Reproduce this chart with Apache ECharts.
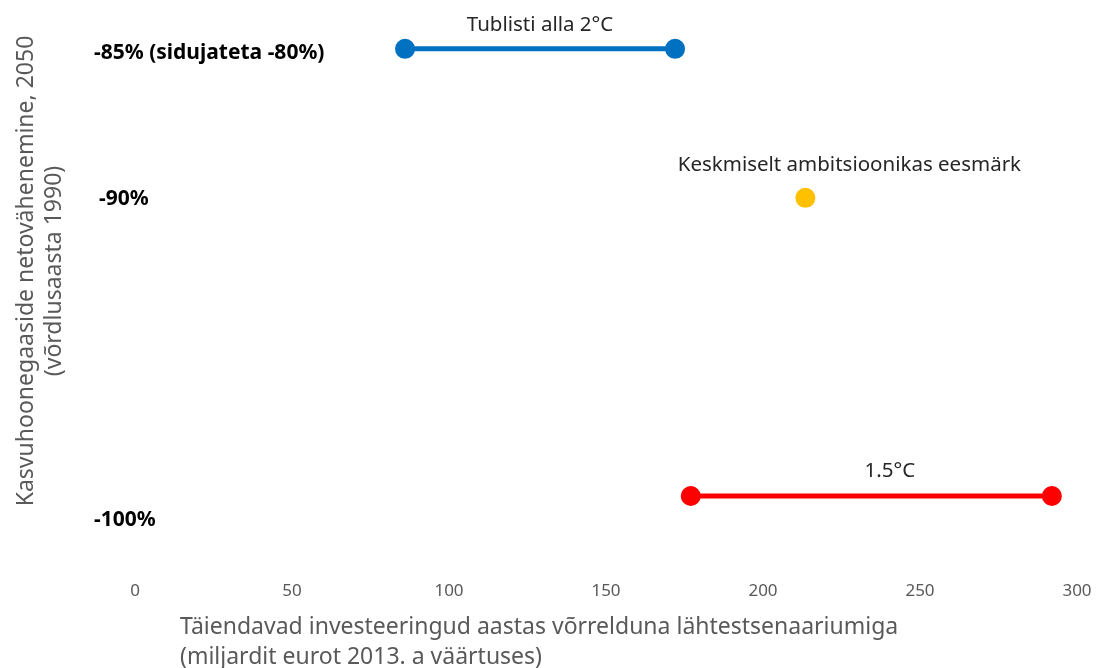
<!DOCTYPE html>
<html>
<head>
<meta charset="utf-8">
<script src="https://cdn.jsdelivr.net/npm/echarts@6/dist/echarts.min.js"></script>
<style>
  html, body { margin: 0; padding: 0; background: #fff; }
  #chart { width: 1104px; height: 668px; }
</style>
</head>
<body>
<div id="chart"></div>
<script>
// andmed
var xTicks = [0, 50, 100, 150, 200, 250, 300];
var yLevels = [-85, -90, -100];
var yLabels = ['-85% (sidujateta -80%)', '-90%', '-100%'];

var seriesNames = ['Tublisti alla 2°C', 'Keskmiselt ambitsioonikas eesmärk', '1.5°C'];
var blueX = [86, 172];
var blueY = [-85, -85];
var yellowX = [213.5];
var yellowY = [-90];
var redX = [177, 292];
var redY = [-100, -100];

var font = '"Noto Sans", "Open Sans", sans-serif';
var grey = '#595959';

function pairs(xs, ys) {
    var out = [];
    for (var i = 0; i < xs.length; i++) out.push([xs[i], ys[i]]);
    return out;
}

function labelFor(name, off) {
    return {
        show: true,
        position: 'inside',
        offset: off,
        formatter: function (p) { return p.dataIndex === 0 ? name : ''; },
        color: '#262626',
        fontFamily: font,
        fontSize: 20.5
    };
}

var boldLbl = { fontFamily: font, fontSize: 21, fontWeight: 'bold', color: '#000' };

var chart = echarts.init(document.getElementById('chart'));
var option = {
    animation: false,
    backgroundColor: '#fff',
    title: {
        text: 'Täiendavad investeeringud aastas võrrelduna lähtestsenaariumiga\n(miljardit eurot 2013. a väärtuses)',
        left: 175,
        top: 607,
        textStyle: { fontFamily: font, fontSize: 23, fontWeight: 'normal', color: grey, lineHeight: 30 }
    },
    graphic: [{
        type: 'text',
        x: 40,
        y: 271,
        rotation: Math.PI / 2,
        style: {
            text: 'Kasvuhoonegaaside netovähenemine, 2050\n(võrdlusaasta 1990)',
            fontFamily: font,
            fontSize: 23,
            lineHeight: 28,
            fill: grey,
            textAlign: 'center',
            textVerticalAlign: 'middle'
        }
    }],
    grid: { left: 135, right: 27, top: 19, bottom: 97.5 },
    xAxis: {
        type: 'value',
        min: xTicks[0],
        max: xTicks[xTicks.length - 1],
        interval: 50,
        axisLine: { show: false },
        axisTick: { show: false },
        splitLine: { show: false },
        axisLabel: { color: grey, fontFamily: font, fontSize: 17, margin: 12 }
    },
    yAxis: {
        type: 'value',
        min: -102.5,
        max: -84,
        axisLine: { show: false },
        axisTick: { show: false },
        splitLine: { show: false },
        axisLabel: {
            customValues: yLevels,
            align: 'left',
            margin: 41,
            formatter: function (v) {
                var i = yLevels.indexOf(v);
                var s = i >= 0 ? yLabels[i] : '';
                if (v === -100) return '{low|' + s + '}';
                if (v === -85) return '{top|' + s + '}';
                return '{mid|' + s + '}';
            },
            rich: {
                mid: Object.assign({ padding: [2, 0, 0, 5] }, boldLbl),
                top: Object.assign({ padding: [8, 0, 0, 0] }, boldLbl),
                low: Object.assign({ padding: [48, 0, 0, 0] }, boldLbl)
            }
        }
    },
    series: [{
        name: seriesNames[0],
        type: 'line',
        data: pairs(blueX, blueY),
        symbol: 'circle',
        symbolSize: 20,
        lineStyle: { color: '#0070C0', width: 5 },
        itemStyle: { color: '#0070C0', opacity: 1 },
        label: labelFor(seriesNames[0], [135, -24])
    }, {
        name: seriesNames[1],
        type: 'scatter',
        data: pairs(yellowX, yellowY),
        symbol: 'circle',
        symbolSize: 20,
        itemStyle: { color: '#FFC000', opacity: 1 },
        label: labelFor(seriesNames[1], [44, -33])
    }, {
        name: seriesNames[2],
        type: 'line',
        data: pairs(redX, redY),
        symbol: 'circle',
        symbolSize: 20,
        lineStyle: { color: '#FF0000', width: 5 },
        itemStyle: { color: '#FF0000', opacity: 1 },
        label: labelFor(seriesNames[2], [199, -25])
    }]
};
chart.setOption(option);
</script>
</body>
</html>
